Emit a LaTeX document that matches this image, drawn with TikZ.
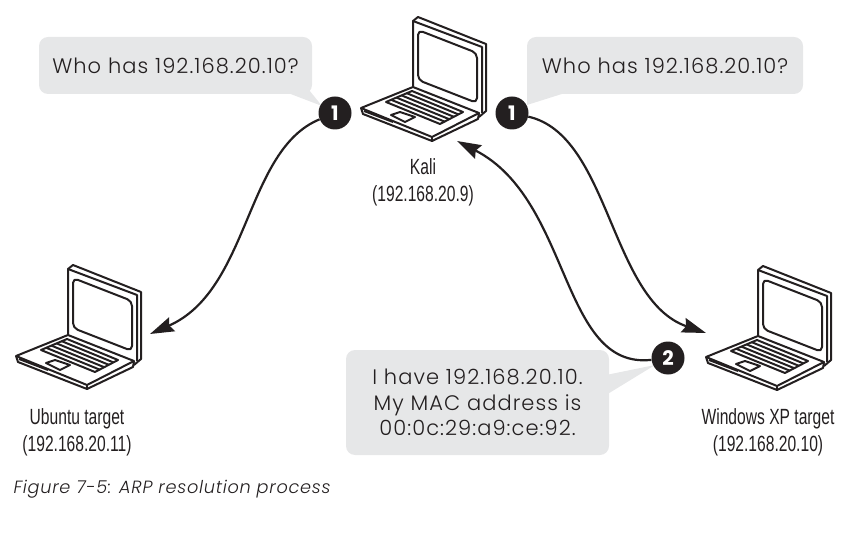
\documentclass[tikz,border=0pt]{standalone}
\usepackage{fontspec}
\setmainfont{Poppins}
\newfontfamily\hostfont[FakeStretch=0.71]{Liberation Sans}
\newfontfamily\bubblefont[LetterSpace=5]{Poppins Light}
\newfontfamily\captionfont[LetterSpace=4]{Poppins Light}
\usetikzlibrary{arrows.meta}
\definecolor{bubblegray}{RGB}{230,231,232}
\definecolor{inkblack}{RGB}{35,31,32}
\tikzset{
  bubble/.style={fill=bubblegray,rounded corners=9pt,inner sep=0pt,align=center,font=\bubblefont\fontsize{21}{25.5}\selectfont,text=inkblack},
  marker/.style={circle,fill=inkblack,text=white,inner sep=0pt,minimum size=33pt,font=\bfseries\fontsize{20}{20}\selectfont},
  hostlabel/.style={align=center,font=\hostfont\fontsize{22}{27}\selectfont,text=inkblack},
  curve/.style={line width=2.2pt,draw=inkblack,-{Stealth[length=24pt,width=15pt,inset=3pt]}},
  laptop/.pic={
    \begin{scope}[line width=2pt,draw=inkblack,line join=round]
    \draw (0,0)--(0,-66)--(5,-70)--(73,-43)--(73,24)--(66,30);
    \draw (0,-66)--(69,-40)--(69,26);
    \draw[rounded corners=5pt] (5,-57)--(64,-34)--(64,16)--(5,-7)--cycle;
    \draw (-52,21)--(0,0)--(66,26)--(19,50)--cycle;
    \draw (-52,21)--(-50,27)--(19,54)--(65,32)--(66,26);
    \draw (19,50)--(19,54);
    \draw (-49,24)--(-20,35);
    \draw (-27,15)--(-1,4)--(50,25)--(27,37)--cycle;
    \foreach \t in {0.2,0.4,0.6,0.8}
      \draw ({-27+26*\t},{15-11*\t})--({27+23*\t},{37-12*\t});
    \draw (-22,28)--(-13,25)--(2,30)--(-8,35)--cycle;
    \end{scope}
  }
}
\begin{document}
\begin{tikzpicture}[x=1pt,y=-1pt]
  \useasboundingbox (0,0) rectangle (853,534);
  % hosts
  \pic at (413,87) {laptop};
  \pic at (68,335) {laptop};
  \pic at (758,336) {laptop};
  \node[hostlabel] (kali) at (423,182.5) {Kali\\(192.168.20.9)};
  \node[hostlabel] (ubuntu) at (77,432) {Ubuntu target\\(192.168.20.11)};
  \node[hostlabel] (xp) at (768,432.5) {Windows XP target\\(192.168.20.10)};
  % speech bubbles
  \node[bubble,minimum width=273pt,minimum height=57pt] (asko) at (175.5,65.5) {Who has 192.168.20.10?};
  \node[bubble,minimum width=276pt,minimum height=57pt] (askb) at (665,65.5) {Who has 192.168.20.10?};
  \node[bubble,minimum width=263pt,minimum height=105pt] (reply) at (477.5,402.5) {I have 192.168.20.10.\\My MAC address is\\00:0c:29:a9:ce:92.};
  \fill[bubblegray] (288,93)--(322,106)--(305,85)--cycle;
  \fill[bubblegray] (527,85)--(527,105)--(565,93)--(550,85)--cycle;
  \fill[bubblegray] (606,375)--(655,365)--(606,395)--cycle;
  % requests and reply
  \node[marker] (one) at (335,113) {1};
  \node[marker] (oneb) at (512,113) {1};
  \node[marker] (two) at (668,358) {2};
  \coordinate (ubuntuend) at (150,334);
  \coordinate (xpend) at (706,333);
  \coordinate (kaliend) at (457,141);
  \draw[curve] (one) .. controls (245,150) and (250,290) .. (ubuntuend);
  \draw[curve] (oneb) .. controls (610,135) and (610,300) .. (xpend);
  \draw[curve] (two) .. controls (560,370) and (572,200) .. (kaliend);
  % caption
  \node[anchor=west,font=\captionfont\itshape\fontsize{17.7}{19}\selectfont,text=inkblack] (caption) at (10,489) {Figure 7-5: ARP resolution process};
\end{tikzpicture}
\end{document}
